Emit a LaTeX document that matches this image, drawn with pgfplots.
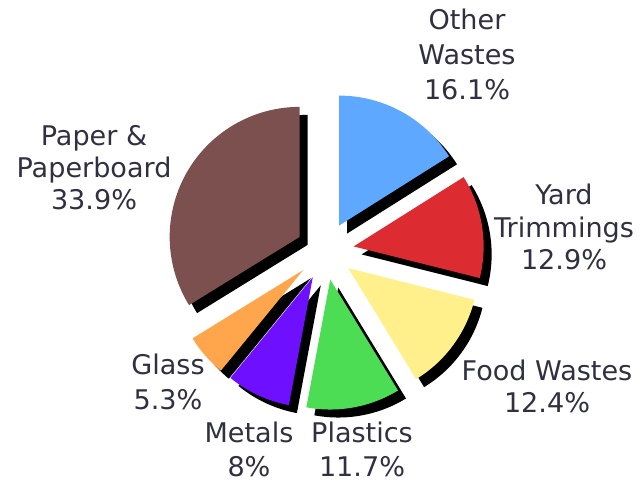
\documentclass[border=0pt]{standalone}
\usepackage{pgfplots}
\pgfplotsset{compat=1.18}
\usepackage{fontspec}
\setmainfont{DejaVu Sans}
\definecolor{cOth}{HTML}{5EA9FF}
\definecolor{cYard}{HTML}{DD2B32}
\definecolor{cFood}{HTML}{FFF08C}
\definecolor{cPlast}{HTML}{4DDD55}
\definecolor{cMetal}{HTML}{6E0FFF}
\definecolor{cGlass}{HTML}{FFA64D}
\definecolor{cPaper}{HTML}{7D5050}
\definecolor{labelc}{HTML}{303040}
\tikzset{lbl/.style={font=\fontsize{20.3}{24}\selectfont, text=labelc, anchor=base, inner sep=0pt}}
% cumulative shares (percent): Other 16.1, Yard 12.9, Food 12.4, Plastics 11.7, Metals 8, Glass 5.3, Paper 33.9
\def\k{3.5892}% 360/100.3
% #1 start, #2 end (cumulative %), #3 dx, #4 dy, #5 style
\newcommand{\pieslice}[5]{%
 \addplot[#5, draw=none, domain={90-\k*(#2)}:{90-\k*(#1)}, samples=70, variable=\t]
 ({325+#3+29*cos(90-\k/2*(#1+#2))+130*cos(\t)}, {234+#4+29*sin(90-\k/2*(#1+#2))+130*sin(\t)})
 -- (axis cs:{325+#3+29*cos(90-\k/2*(#1+#2))},{234+#4+29*sin(90-\k/2*(#1+#2))}) -- cycle;
}
\begin{document}
\begin{tikzpicture}
\begin{axis}[width=481.5pt, height=363.75pt, scale only axis,
  xmin=0, xmax=642, ymin=0, ymax=485, hide axis, clip=false]
\path (rel axis cs:0,0) rectangle (rel axis cs:1,1);
% shadows
\pieslice{0}{16.1}{8}{-8}{fill=black}
\pieslice{16.1}{29.0}{8}{-8}{fill=black}
\pieslice{29.0}{41.4}{8}{-8}{fill=black}
\pieslice{41.4}{53.1}{8}{-8}{fill=black}
\pieslice{53.1}{61.1}{8}{-8}{fill=black}
\pieslice{61.1}{66.4}{8}{-8}{fill=black}
\pieslice{66.4}{100.3}{8}{-8}{fill=black}
% slices
\pieslice{0}{16.1}{0}{0}{fill=cOth}
\pieslice{16.1}{29.0}{0}{0}{fill=cYard}
\pieslice{29.0}{41.4}{0}{0}{fill=cFood}
\pieslice{41.4}{53.1}{0}{0}{fill=cPlast}
\pieslice{53.1}{61.1}{0}{0}{fill=cMetal}
\pieslice{61.1}{66.4}{0}{0}{fill=cGlass}
\pieslice{66.4}{100.3}{0}{0}{fill=cPaper}
% labels
\node[lbl] at (axis cs:467,455) {Other};
\node[lbl] at (axis cs:467,420) {Wastes};
\node[lbl] at (axis cs:467,385) {16.1\%};
\node[lbl] at (axis cs:94,339) {Paper \&};
\node[lbl] at (axis cs:94,307) {Paperboard};
\node[lbl] at (axis cs:94,275) {33.9\%};
\node[lbl] at (axis cs:564,280) {Yard};
\node[lbl] at (axis cs:564,247) {Trimmings};
\node[lbl] at (axis cs:564,215) {12.9\%};
\node[lbl] at (axis cs:547,104) {Food Wastes};
\node[lbl] at (axis cs:547,72) {12.4\%};
\node[lbl] at (axis cs:168,110) {Glass};
\node[lbl] at (axis cs:168,75) {5.3\%};
\node[lbl] at (axis cs:249,42) {Metals};
\node[lbl] at (axis cs:249,8) {8\%};
\node[lbl] at (axis cs:362,42) {Plastics};
\node[lbl] at (axis cs:362,8) {11.7\%};
\end{axis}
\end{tikzpicture}
\end{document}
